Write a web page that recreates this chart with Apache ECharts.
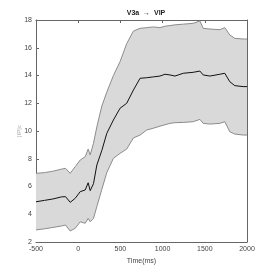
<!DOCTYPE html>
<html><head><meta charset="utf-8">
<script src="https://cdn.jsdelivr.net/npm/echarts@6/dist/echarts.min.js"></script>
<style>html,body{margin:0;padding:0;background:#fff}#c{width:273px;height:273px}</style>
</head><body><div id="c"></div>
<script>
const times = [-500,-400,-300,-200,-150,-95,-35,24,83,118,142,181,221,280,339,417,496,575,654,733,812,890,969,1028,1087,1146,1245,1363,1442,1481,1560,1678,1737,1796,1855,1954,2000];
const meanVals = [4.9,5.0,5.1,5.25,5.27,4.86,5.15,5.63,5.75,6.27,5.7,6.2,7.55,8.6,9.83,10.79,11.64,12.0,12.95,13.8,13.84,13.9,13.96,14.09,14.04,13.96,14.16,14.23,14.32,14.04,13.96,14.09,14.16,13.55,13.27,13.2,13.2];
const upperVals = [6.95,7.0,7.1,7.25,7.31,6.95,7.43,7.91,8.15,8.7,8.27,9.11,10.3,11.8,12.8,14.0,15.0,16.3,17.2,17.4,17.45,17.5,17.45,17.55,17.6,17.65,17.7,17.76,17.93,17.4,17.35,17.3,17.45,16.92,16.68,16.63,16.63];
const lowerVals = [2.87,2.95,3.05,3.15,3.22,2.79,2.99,3.46,3.35,3.7,3.46,3.7,4.55,5.8,7.0,8.03,8.39,8.7,9.5,9.71,10.07,10.2,10.35,10.45,10.55,10.6,10.62,10.67,10.84,10.55,10.5,10.55,10.67,9.95,9.78,9.71,9.71];
const xTicks = [-500,0,500,1000,1500,2000];
const yTicks = [2,4,6,8,10,12,14,16,18];
const titleText = 'V3a  \u2192  VIP';
const xName = 'Time(ms)';

const lowerData = times.map((t,i)=>[t, lowerVals[i]]);
const upperData = times.map((t,i)=>[t, upperVals[i]]);
const meanData = times.map((t,i)=>[t, meanVals[i]]);

const axisCol = '#666';
const lab = {fontSize:7, color:'#444', fontFamily:'Liberation Sans'};
const chart = echarts.init(document.getElementById('c'), null, {renderer:'canvas'});
chart.setOption({
  animation:false,
  title:{text:titleText, left:141, top:5, textAlign:'center',
    textStyle:{fontSize:7, fontWeight:'bold', color:'#222', fontFamily:'Liberation Sans'}},
  grid:{left:36, right:26, top:20, bottom:31},
  xAxis:[
    {type:'value', min:-500, max:2000, interval:500, position:'bottom',
     name:xName, nameLocation:'middle', nameGap:14, nameTextStyle:{fontSize:7,color:'#444',fontFamily:'Liberation Sans'},
     axisLine:{onZero:false, lineStyle:{color:axisCol,width:1}}, axisTick:{inside:true,length:3,lineStyle:{color:axisCol}},
     axisLabel:Object.assign({margin:4, formatter:v=>xTicks.includes(v)?String(v):''}, lab), splitLine:{show:false}},
    {type:'value', min:-500, max:2000, interval:500, position:'top',
     axisLine:{onZero:false, lineStyle:{color:axisCol,width:1}}, axisTick:{inside:true,length:3,lineStyle:{color:axisCol}},
     axisLabel:{show:false}, splitLine:{show:false}}
  ],
  yAxis:[
    {type:'value', min:2, max:18, interval:2, position:'left',
     name:'|IP|c', nameLocation:'middle', nameGap:14, nameRotate:90, nameMoveOverlap:false,
     nameTextStyle:{fontSize:6,color:'#aaa',fontFamily:'Liberation Sans'},
     axisLine:{onZero:false, lineStyle:{color:axisCol,width:1}}, axisTick:{inside:true,length:3,lineStyle:{color:axisCol}},
     axisLabel:Object.assign({margin:4, formatter:v=>yTicks.includes(v)?String(v):''}, lab), splitLine:{show:false}},
    {type:'value', min:2, max:18, interval:2, position:'right',
     axisLine:{onZero:false, lineStyle:{color:axisCol,width:1}}, axisTick:{inside:true,length:3,lineStyle:{color:axisCol}},
     axisLabel:{show:false}, splitLine:{show:false}}
  ],
  series:[
    {type:'line', data:upperData, symbol:'none', lineStyle:{color:'#8c8c8c',width:1},
     areaStyle:{color:'#d9d9d9', opacity:1, origin:'start'}, z:1},
    {type:'line', data:lowerData, symbol:'none', lineStyle:{color:'#8c8c8c',width:1},
     areaStyle:{color:'#ffffff', opacity:1, origin:'start'}, z:2},
    {type:'line', data:meanData, symbol:'none', lineStyle:{color:'#111',width:1}, z:3}
  ]
});
</script></body></html>
